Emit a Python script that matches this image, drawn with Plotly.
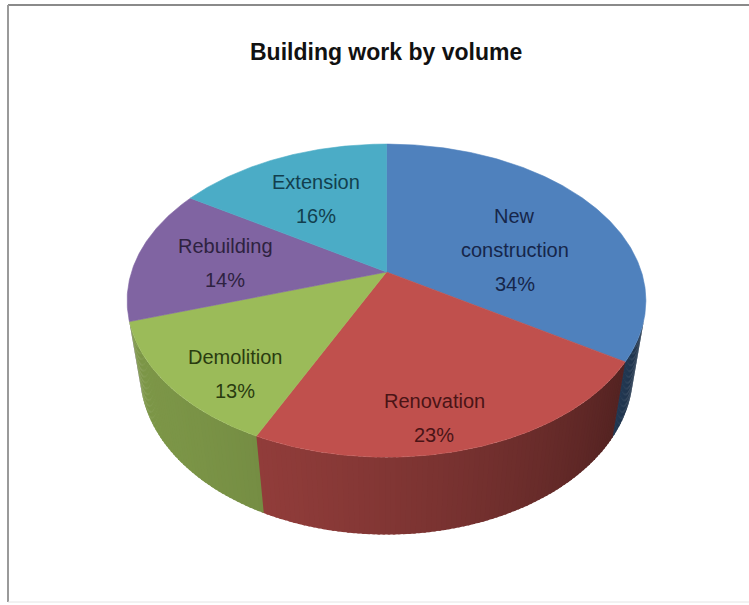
import numpy as np
import plotly.graph_objects as go

# Chart data
categories = ["New construction", "Renovation", "Demolition", "Rebuilding", "Extension"]
shares = [34, 23, 13, 14, 16]  # percent of total volume
top_colors = ["#4F81BD", "#C0504D", "#9BBB59", "#8064A2", "#4BACC6"]
label_colors = ["#16264a", "#4a1416", "#2a3b10", "#2e2240", "#123f4e"]
title_text = "Building work by volume"

# Canvas and 3D pie geometry (pixels / radii)
W, H = 749, 605
CX, CY, RPX = 386.5, 272.0, 255.0      # projected pie centre and radius in px
ELEV = np.radians(36.4)                 # viewing elevation
DIST = 4.4                              # camera distance (in radii)
THICK = 0.372                           # pie thickness (in radii)
FONT = "Liberation Sans, Arial, sans-serif"
LABEL_SIZE = 20
LINE_PX = 34                            # spacing between label lines

S, C = np.sin(ELEV), np.cos(ELEV)


def project(X, Y, Z):
    """Perspective projection of pie-space points to the 2D plane."""
    X, Y, Z = np.asarray(X, float), np.asarray(Y, float), np.asarray(Z, float)
    yc = Y * S + Z * C
    dc = Z * S - Y * C
    k = DIST / (DIST - dc)
    return X * k, yc * k


def centroid(x, y):
    """Area and centroid of a closed polygon (shoelace formula)."""
    x2, y2 = np.roll(x, -1), np.roll(y, -1)
    cr = x * y2 - x2 * y
    a = cr.sum() / 2
    return abs(a), ((x + x2) * cr).sum() / (6 * a), ((y + y2) * cr).sum() / (6 * a)


def shade(hex_color, f):
    h = hex_color.lstrip("#")
    r, g, b = (int(h[i:i + 2], 16) for i in (0, 2, 4))
    return "rgb({},{},{})".format(*(int(round(min(255, v * f))) for v in (r, g, b)))


total = float(sum(shares))
bounds = np.concatenate([[0.0], np.cumsum(shares)]) / total * 360.0  # clockwise from 12 o'clock
lim = np.degrees(np.arccos(-1.0 / (DIST * C)))                         # visible wall limits

fig = go.Figure()

# Outer wall: only the part facing the camera, drawn in thin overlapping strips for shading
wall_parts = {}
for i in range(len(shares)):
    lo, hi = max(bounds[i], lim), min(bounds[i + 1], 360.0 - lim)
    if lo >= hi:
        continue
    th = np.radians(np.linspace(lo, hi, max(3, int((hi - lo) * 2))))
    wx = np.concatenate([np.sin(th), np.sin(th[::-1])])
    wy = np.concatenate([np.cos(th), np.cos(th[::-1])])
    wz = np.concatenate([np.zeros_like(th), np.full_like(th, -THICK)])
    wall_parts[i] = project(wx, wy, wz)

    n = int(np.ceil(hi - lo))
    edges = np.linspace(lo, hi, n + 1)
    for t0, t1 in zip(edges[:-1], edges[1:]):
        tm = np.radians((t0 + t1) / 2)
        f = 0.55 + 0.25 * np.cos(tm - np.radians(240))
        col = shade(top_colors[i], f)
        t1e = min(t1 + 0.5, 360.0 - lim)
        ts = np.radians([t0, t1e, t1e, t0, t0])
        px, py = project(np.sin(ts), np.cos(ts), [0, 0, -THICK, -THICK, 0])
        fig.add_trace(go.Scatter(x=px, y=py, mode="lines", fill="toself",
                                 fillcolor=col, line=dict(color=col, width=0),
                                 hoverinfo="skip", showlegend=False))

# Top faces of the slices
top_parts = {}
for i in range(len(shares)):
    a0, a1 = bounds[i], bounds[i + 1]
    th = np.radians(np.linspace(a0, a1, max(3, int((a1 - a0) * 2))))
    xs = np.concatenate([[0.0], np.sin(th), [0.0]])
    ys = np.concatenate([[0.0], np.cos(th), [0.0]])
    px, py = project(xs, ys, np.zeros_like(xs))
    top_parts[i] = (px[:-1], py[:-1])
    fig.add_trace(go.Scatter(x=px, y=py, mode="lines", fill="toself",
                             fillcolor=top_colors[i],
                             line=dict(color=top_colors[i], width=0.6),
                             hoverinfo="skip", showlegend=False))

# Data labels, centred on the visible area of each slice
annotations = []
for i, (name, val) in enumerate(zip(categories, shares)):
    parts = [centroid(*top_parts[i])]
    if i in wall_parts:
        parts.append(centroid(*wall_parts[i]))
    area = sum(p[0] for p in parts)
    lx = sum(p[0] * p[1] for p in parts) / area
    ly = sum(p[0] * p[2] for p in parts) / area
    words = name.split(" ") if len(name) > 12 else [name]
    lines = words + [f"{val}%"]
    mid = (len(lines) - 1) / 2
    for j, line in enumerate(lines):
        annotations.append(dict(x=float(lx), y=float(ly), xref="x", yref="y",
                                text=line, showarrow=False,
                                xanchor="center", yanchor="middle",
                                yshift=(mid - j) * LINE_PX,
                                font=dict(family=FONT, size=LABEL_SIZE,
                                          color=label_colors[i])))

# Title
annotations.append(dict(x=0.515, y=1 - 52 / H, xref="paper", yref="paper",
                        text=f"<b>{title_text}</b>", showarrow=False,
                        xanchor="center", yanchor="middle",
                        font=dict(family=FONT, size=23, color="#111111")))

# Chart-area frame
shapes = [
    dict(type="line", xref="paper", yref="paper", x0=8 / W, x1=1.0,
         y0=1 - 5 / H, y1=1 - 5 / H, line=dict(color="#8a8a8a", width=2)),
    dict(type="line", xref="paper", yref="paper", x0=8 / W, x1=8 / W,
         y0=1 - 5 / H, y1=1 - 602 / H, line=dict(color="#9a9a9a", width=2)),
    dict(type="line", xref="paper", yref="paper", x0=8 / W, x1=1.0,
         y0=1 - 602 / H, y1=1 - 602 / H, line=dict(color="#e4e4e4", width=1)),
]

fig.update_layout(
    width=W, height=H,
    margin=dict(l=0, r=0, t=0, b=0),
    paper_bgcolor="white", plot_bgcolor="white",
    xaxis=dict(range=[-CX / RPX, (W - CX) / RPX], visible=False, fixedrange=True),
    yaxis=dict(range=[-(H - CY) / RPX, CY / RPX], visible=False, fixedrange=True),
    annotations=annotations, shapes=shapes, showlegend=False,
)

fig.write_html("out.html")
